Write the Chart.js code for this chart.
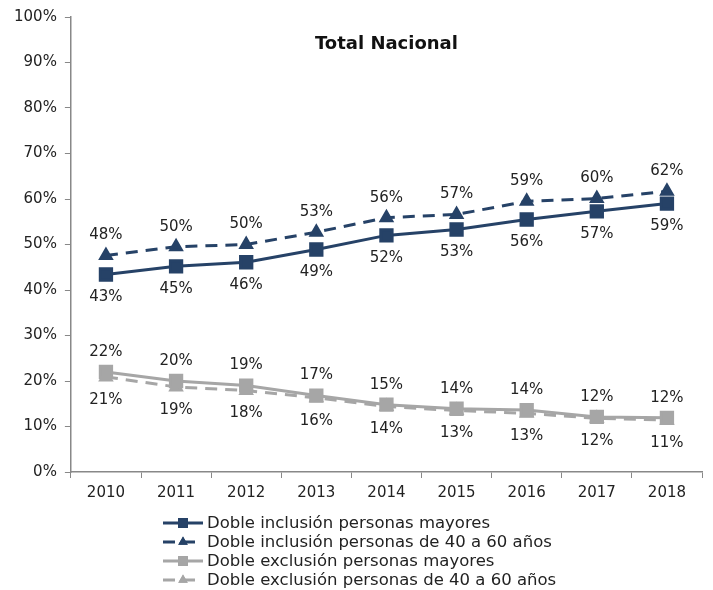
<!DOCTYPE html>
<html>
<head>
<meta charset="utf-8">
<script src="https://cdn.jsdelivr.net/npm/chart.js@4"></script>
<style>
  body { margin: 0; background: #fff; }
</style>
</head>
<body>
<canvas id="chart" width="713" height="590"></canvas>
<script>
// Data
const years = ['2010', '2011', '2012', '2013', '2014', '2015', '2016', '2017', '2018'];
const inclMayores = [43.4, 45.2, 46.1, 48.9, 52.0, 53.3, 55.5, 57.3, 59.0];
const inclLabels = ['43%', '45%', '46%', '49%', '52%', '53%', '56%', '57%', '59%'];
const incl4060 = [47.6, 49.5, 50.0, 52.7, 55.9, 56.6, 59.5, 60.1, 61.7];
const incl4060Labels = ['48%', '50%', '50%', '53%', '56%', '57%', '59%', '60%', '62%'];
const exclMayores = [22.0, 20.0, 19.0, 16.8, 14.8, 13.9, 13.6, 12.1, 11.9];
const exclLabels = ['22%', '20%', '19%', '17%', '15%', '14%', '14%', '12%', '12%'];
const excl4060 = [20.9, 18.7, 17.9, 16.3, 14.4, 13.5, 12.9, 11.8, 11.4];
const excl4060Labels = ['21%', '19%', '18%', '16%', '14%', '13%', '13%', '12%', '11%'];

const navy = '#264267';
const grey = '#a6a6a6';
const font = 'DejaVu Sans';

// value labels + title + legend drawn on top
const extras = {
  id: 'extras',
  afterDatasetsDraw(chart) {
    const ctx = chart.ctx;
    const area = chart.chartArea;
    ctx.save();
    ctx.fillStyle = '#222';
    ctx.font = '15px "' + font + '"';
    ctx.textAlign = 'center';
    ctx.textBaseline = 'middle';
    chart.data.datasets.forEach((ds, i) => {
      chart.getDatasetMeta(i).data.forEach((pt, j) => {
        const dy = ds.labelPos === 'below' ? 23 : -20;
        ctx.fillText(ds.valueLabels[j], pt.x, pt.y + dy);
      });
    });

    // Title
    ctx.fillStyle = '#111';
    ctx.font = 'bold 18px "' + font + '"';
    ctx.fillText('Total Nacional', (area.left + area.right) / 2, 44);

    // Legend
    ctx.font = '16.5px "' + font + '"';
    ctx.textAlign = 'left';
    chart.data.datasets.forEach((ds, i) => {
      const y = 523 + i * 19;
      ctx.strokeStyle = ds.borderColor;
      ctx.lineWidth = 3;
      ctx.setLineDash(ds.borderDash || []);
      ctx.beginPath();
      ctx.moveTo(163, y);
      ctx.lineTo(203, y);
      ctx.stroke();
      ctx.setLineDash([]);
      ctx.fillStyle = ds.borderColor;
      Chart.helpers.drawPoint(ctx, { pointStyle: ds.pointStyle, radius: ds.pointStyle === 'rect' ? 7 : 5.5, borderWidth: 0 }, 183, y);
      ctx.fill();
      ctx.fillStyle = '#222';
      ctx.fillText(ds.label, 207, y + 1);
    });
    ctx.restore();
  }
};

new Chart(document.getElementById('chart'), {
  type: 'line',
  data: {
    labels: years,
    datasets: [
      {
        label: 'Doble inclusión personas mayores',
        data: inclMayores, valueLabels: inclLabels, labelPos: 'below',
        borderColor: navy, backgroundColor: navy,
        borderWidth: 3, pointStyle: 'rect', pointRadius: 8
      },
      {
        label: 'Doble inclusión personas de 40 a 60 años',
        data: incl4060, valueLabels: incl4060Labels, labelPos: 'above',
        borderColor: navy, backgroundColor: navy, borderDash: [12, 8],
        borderWidth: 3, pointStyle: 'triangle', pointRadius: 6
      },
      {
        label: 'Doble exclusión personas mayores',
        data: exclMayores, valueLabels: exclLabels, labelPos: 'above',
        borderColor: grey, backgroundColor: grey,
        borderWidth: 3, pointStyle: 'rect', pointRadius: 8
      },
      {
        label: 'Doble exclusión personas de 40 a 60 años',
        data: excl4060, valueLabels: excl4060Labels, labelPos: 'below',
        borderColor: grey, backgroundColor: grey, borderDash: [12, 8],
        borderWidth: 3, pointStyle: 'triangle', pointRadius: 6
      }
    ]
  },
  options: {
    responsive: false,
    animation: false,
    layout: { padding: { top: 10, right: 5, left: 6, bottom: 82 } },
    plugins: {
      legend: { display: false },
      title: { display: false },
      tooltip: { enabled: false }
    },
    scales: {
      x: {
        offset: true,
        grid: { offset: true, drawOnChartArea: false, tickLength: 6, color: '#888' },
        border: { color: '#888', width: 1.5 },
        ticks: { color: '#222', font: { family: font, size: 15 }, padding: 6 }
      },
      y: {
        min: 0, max: 100,
        grid: { drawOnChartArea: false, tickLength: 6, color: '#888' },
        border: { color: '#888', width: 1.5 },
        ticks: {
          stepSize: 10, color: '#222', padding: 8,
          font: { family: font, size: 15 },
          callback: v => v + '%'
        }
      }
    }
  },
  plugins: [extras]
});
</script>
</body>
</html>
